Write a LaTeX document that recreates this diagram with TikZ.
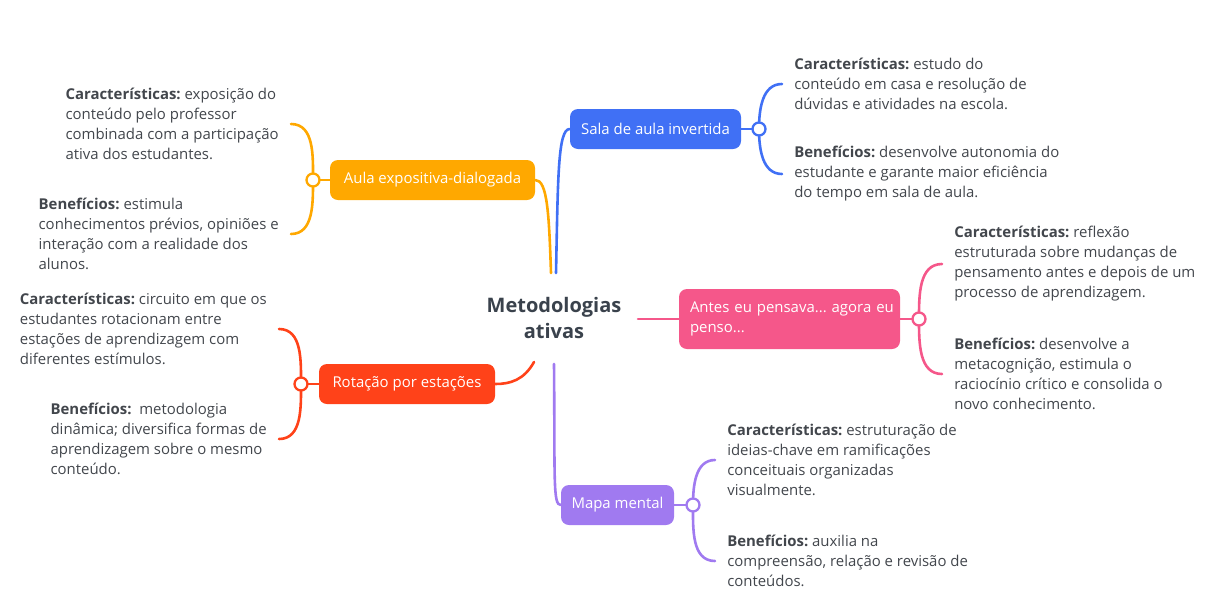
\documentclass[tikz,border=0pt]{standalone}
\usepackage{fontspec}
\setmainfont{Open Sans}
\frenchspacing
\definecolor{cblue}{RGB}{64,112,245}
\definecolor{corange}{RGB}{255,168,0}
\definecolor{cpink}{RGB}{245,87,138}
\definecolor{cred}{RGB}{255,66,25}
\definecolor{cpurple}{RGB}{160,122,240}
\definecolor{ctext}{RGB}{66,70,76}
\definecolor{ctitle}{RGB}{58,66,76}
\newdimen\pxu \pxu=0.75pt
\begin{document}
\begin{tikzpicture}[x=0.75pt,y=-0.75pt,
  box/.style={rounded corners=6pt, inner sep=0pt, minimum height=40\pxu, text=white,
    font=\fontsize{11.2}{15}\selectfont},
  dot/.style={circle, fill=white, minimum size=13\pxu, inner sep=0pt, line width=2.3\pxu},
  conn/.style={line width=2.6\pxu, line cap=round},
  txt/.style={inner sep=0pt, align=left, text=ctext, font=\fontsize{11.2}{15}\selectfont},
  title/.style={inner sep=0pt, align=center, text=ctitle, font=\fontsize{15}{20}\selectfont\bfseries}]
\useasboundingbox (0,0) rectangle (1210,590);

% centre
\node[title] (center) at (554,318) {Metodologias\\ativas};
\coordinate (cTo) at (551,273);
\coordinate (cTb) at (556,273);
\coordinate (cR) at (638,319);
\coordinate (cBr) at (534,362);
\coordinate (cBp) at (554,364);

% main boxes
\node[box, fill=cblue, minimum width=171\pxu] (sala) at (655.5,129) {Sala de aula invertida};
\node[box, fill=corange, minimum width=205\pxu] (aula) at (432.5,180) {Aula expositiva-dialogada};
\node[box, fill=cpink, minimum width=221\pxu, minimum height=60\pxu, text width=199\pxu, align=left] (antes) at (789.5,319) {\mbox{Antes eu pensava... agora eu}\\penso...};
\node[box, fill=cred, minimum width=176\pxu] (rot) at (407,384) {Rotação por estações};
\node[box, fill=cpurple, minimum width=113\pxu] (mapa) at (617.5,505) {Mapa mental};

% connectors from centre
\draw[conn, corange] (cTo) .. controls +(-2,-60) and +(12,0) .. (aula.east);
\draw[conn, cblue] (cTb) .. controls +(2,-95) and +(-12,0) .. (sala.west);
\draw[conn, cpink] (cR) -- (antes.west);
\draw[conn, cred] (cBr) .. controls +(-10,18) and +(15,0) .. (rot.east);
\draw[conn, cpurple] (cBp) .. controls +(1,115) and +(-8,0) .. (mapa.west);

% bracket end points
\coordinate (sT) at (782,84);  \coordinate (sB) at (782,174);
\coordinate (aT) at (291,124); \coordinate (aB) at (291,234);
\coordinate (pT) at (942,264); \coordinate (pB) at (942,374);
\coordinate (rT) at (279,329); \coordinate (rB) at (279,439);
\coordinate (mT) at (715,460); \coordinate (mB) at (715,561);

% dots
\node[dot] (sdot) at (759,129) {};
\node[dot] (adot) at (313,180) {};
\node[dot] (pdot) at (919,319) {};
\node[dot] (rdot) at (301,384) {};
\node[dot] (mdot) at (693,505) {};

% brackets
\draw[conn, cblue] (sala.east) -- (sdot.center);
\draw[conn, cblue] (sT) to[out=180,in=90] (sdot.center) to[out=-90,in=180] (sB);
\draw[conn, corange] (aula.west) -- (adot.center);
\draw[conn, corange] (aT) to[out=0,in=90] (adot.center) to[out=-90,in=0] (aB);
\draw[conn, cpink] (antes.east) -- (pdot.center);
\draw[conn, cpink] (pT) to[out=180,in=90] (pdot.center) to[out=-90,in=180] (pB);
\draw[conn, cred] (rot.west) -- (rdot.center);
\draw[conn, cred] (rT) to[out=0,in=90] (rdot.center) to[out=-90,in=0] (rB);
\draw[conn, cpurple] (mapa.east) -- (mdot.center);
\draw[conn, cpurple] (mT) to[out=180,in=90] (mdot.center) to[out=-90,in=180] (mB);

\node[dot, draw=cblue] at (sdot) {};
\node[dot, draw=corange] at (adot) {};
\node[dot, draw=cpink] at (pdot) {};
\node[dot, draw=cred] at (rdot) {};
\node[dot, draw=cpurple] at (mdot) {};

% texts
\node[txt, anchor=west] (s1) at ([xshift=12\pxu]sT) {\textbf{Características:} estudo do\\conteúdo em casa e resolução de\\dúvidas e atividades na escola.};
\node[txt, anchor=west] (s2) at ([xshift=12\pxu]sB) {\textbf{Benefícios:} desenvolve autonomia do\\estudante e garante maior eficiência\\do tempo em sala de aula.};

\node[txt, anchor=east] (a1) at ([xshift=-12\pxu]aT) {\textbf{Características:} exposição do\\conteúdo pelo professor\\combinada com a participação\\ativa dos estudantes.};
\node[txt, anchor=east] (a2) at ([xshift=-12\pxu]aB) {\textbf{Benefícios:} estimula\\conhecimentos prévios, opiniões e\\interação com a realidade dos\\alunos.};

\node[txt, anchor=west] (p1) at ([xshift=12\pxu]pT) {\textbf{Características:} reflexão\\estruturada sobre mudanças de\\pensamento antes e depois de um\\processo de aprendizagem.};
\node[txt, anchor=west] (p2) at ([xshift=12\pxu]pB) {\textbf{Benefícios:} desenvolve a\\metacognição, estimula o\\raciocínio crítico e consolida o\\novo conhecimento.};

\node[txt, anchor=east] (r1) at ([xshift=-12\pxu]rT) {\textbf{Características:} circuito em que os\\estudantes rotacionam entre\\estações de aprendizagem com\\diferentes estímulos.};
\node[txt, anchor=east] (r2) at ([xshift=-12\pxu]rB) {\textbf{Benefícios:}\ \ metodologia\\dinâmica; diversifica formas de\\aprendizagem sobre o mesmo\\conteúdo.};

\node[txt, anchor=west] (m1) at ([xshift=12\pxu]mT) {\textbf{Características:} estruturação de\\ideias-chave em ramificações\\conceituais organizadas\\visualmente.};
\node[txt, anchor=west] (m2) at ([xshift=12\pxu]mB) {\textbf{Benefícios:} auxilia na\\compreensão, relação e revisão de\\conteúdos.};
\end{tikzpicture}
\end{document}
